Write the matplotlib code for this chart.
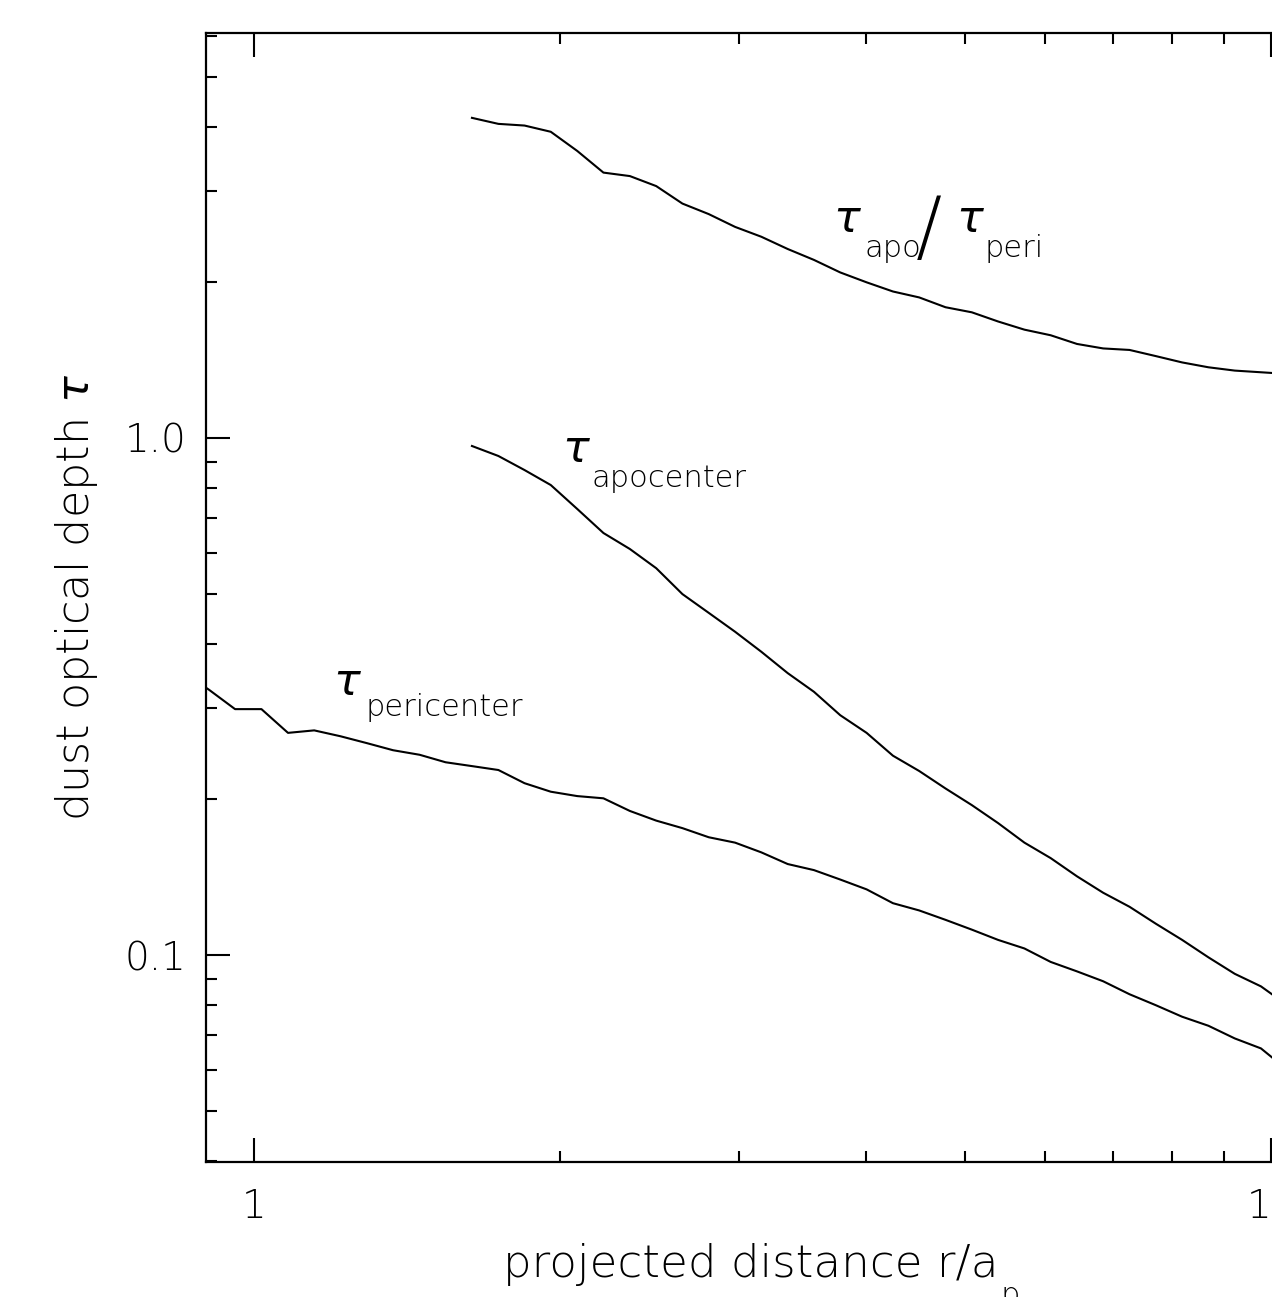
import matplotlib
matplotlib.use("Agg")
import matplotlib.pyplot as plt
from matplotlib.ticker import FixedLocator, FixedFormatter, NullFormatter

# ---------------- data ----------------
# projected distance r/a_p grid (shared by all curves)
r_grid = [0.851, 0.903, 0.958, 1.017, 1.080, 1.146, 1.216, 1.291, 1.370, 1.455,
          1.543, 1.638, 1.739, 1.845, 1.958, 2.079, 2.206, 2.342, 2.486, 2.638,
          2.800, 2.972, 3.154, 3.348, 3.553, 3.771, 4.003, 4.249, 4.509, 4.786,
          5.080, 5.391, 5.722, 6.073, 6.446, 6.839, 7.260, 7.705, 8.178, 8.680,
          9.213, 9.776, 10.376]

tau_pericenter = [0.353, 0.326, 0.299, 0.299, 0.269, 0.272, 0.265, 0.257, 0.249, 0.244,
                  0.236, 0.232, 0.228, 0.215, 0.207, 0.203, 0.201, 0.190, 0.182, 0.176,
                  0.169, 0.165, 0.158, 0.150, 0.146, 0.140, 0.134, 0.126, 0.122, 0.117,
                  0.112, 0.107, 0.103, 0.097, 0.093, 0.089, 0.084, 0.080, 0.076, 0.073,
                  0.069, 0.066, 0.060]

# apocenter curve and ratio start at r = 1.638 (index 11 of r_grid)
start_apo = 11
tau_apocenter = [0.965, 0.923, 0.867, 0.811, 0.729, 0.655, 0.610, 0.560, 0.499, 0.459,
                 0.422, 0.386, 0.351, 0.323, 0.291, 0.269, 0.243, 0.227, 0.210, 0.195,
                 0.180, 0.165, 0.154, 0.142, 0.132, 0.124, 0.115, 0.107, 0.099, 0.092,
                 0.087, 0.080]

tau_ratio = [4.16, 4.05, 4.02, 3.91, 3.59, 3.26, 3.21, 3.07, 2.84, 2.71,
             2.56, 2.45, 2.32, 2.21, 2.09, 2.00, 1.92, 1.87, 1.79, 1.75,
             1.68, 1.62, 1.58, 1.52, 1.49, 1.48, 1.44, 1.40, 1.37, 1.35,
             1.34, 1.33]

x_ticks = [1, 10]
x_tick_labels = ["1", "10"]
y_ticks = [0.1, 1.0]
y_tick_labels = ["0.1", "1.0"]

# ---------------- figure ----------------
plt.rcParams["font.family"] = ["DejaVu Sans"]
plt.rcParams["font.weight"] = "light"
plt.rcParams["axes.labelweight"] = "light"
plt.rcParams["mathtext.fontset"] = "dejavusans"
plt.rcParams["mathtext.default"] = "it"

W, H = 1272, 1297
fig = plt.figure(figsize=(W / 100, H / 100), dpi=100)
ax = fig.add_axes([206 / W, (H - 1162) / H, (1330 - 206) / W, (1162 - 33) / H])
ax.set_xscale("log")
ax.set_yscale("log")
ax.set_xlim(0.897, 11.43)
ax.set_ylim(0.0398, 6.07)

lw = 1.5
ax.plot(r_grid, tau_pericenter, color="black", lw=lw)
ax.plot(r_grid[start_apo:], tau_apocenter, color="black", lw=lw)
ax.plot(r_grid[start_apo:], tau_ratio, color="black", lw=lw)

for s in ax.spines.values():
    s.set_linewidth(1.6)

ax.xaxis.set_major_locator(FixedLocator(x_ticks))
ax.xaxis.set_major_formatter(FixedFormatter(x_tick_labels))
ax.yaxis.set_major_locator(FixedLocator(y_ticks))
ax.yaxis.set_major_formatter(FixedFormatter(y_tick_labels))
xminor = [m * d for d in (1, 10) for m in range(2, 10)]
yminor = [m * d for d in (0.01, 0.1, 1.0) for m in range(2, 10)]
ax.xaxis.set_minor_locator(FixedLocator(xminor))
ax.yaxis.set_minor_locator(FixedLocator(yminor))
ax.xaxis.set_minor_formatter(NullFormatter())
ax.yaxis.set_minor_formatter(NullFormatter())

ax.tick_params(which="both", direction="in", top=True, right=True, width=1.5)
ax.tick_params(which="major", length=17)
ax.tick_params(which="minor", length=8)
ax.tick_params(axis="x", which="major", pad=19, labelsize=28)
ax.tick_params(axis="y", which="major", pad=14, labelsize=28)

# x label: main text plus a low-set subscript "p" (cut by the lower edge as in the reference)
ax.set_xlabel("projected distance r/a", fontsize=32.5)
ax.xaxis.set_label_coords((751 - 206) / (1330 - 206), -0.072)
fig.text(1001 / W, 1 - 1281 / H, "p", fontsize=22, va="top", ha="left")

ax.set_ylabel(r"dust optical depth $\tau$", fontsize=32, labelpad=18)

# ---------------- curve annotations ----------------
tau_fs = 32
sub_fs = 22
ax.text(2.008, 0.899, r"$\tau$", fontsize=tau_fs, va="baseline", ha="left")
ax.text(2.149, 0.804, "apocenter", fontsize=sub_fs, va="baseline", ha="left")

ax.text(1.196, 0.318, r"$\tau$", fontsize=tau_fs, va="baseline", ha="left")
ax.text(1.286, 0.290, "pericenter", fontsize=sub_fs, va="baseline", ha="left")

ax.text(3.710, 2.503, r"$\tau$", fontsize=tau_fs, va="baseline", ha="left")
ax.text(3.980, 2.239, "apo", fontsize=sub_fs, va="baseline", ha="left")
ax.text(4.475, 2.279, "/", fontsize=56, va="baseline", ha="left")
ax.text(4.900, 2.503, r"$\tau$", fontsize=tau_fs, va="baseline", ha="left")
ax.text(5.225, 2.239, "peri", fontsize=sub_fs, va="baseline", ha="left")

fig.savefig("out.png", dpi=100)
